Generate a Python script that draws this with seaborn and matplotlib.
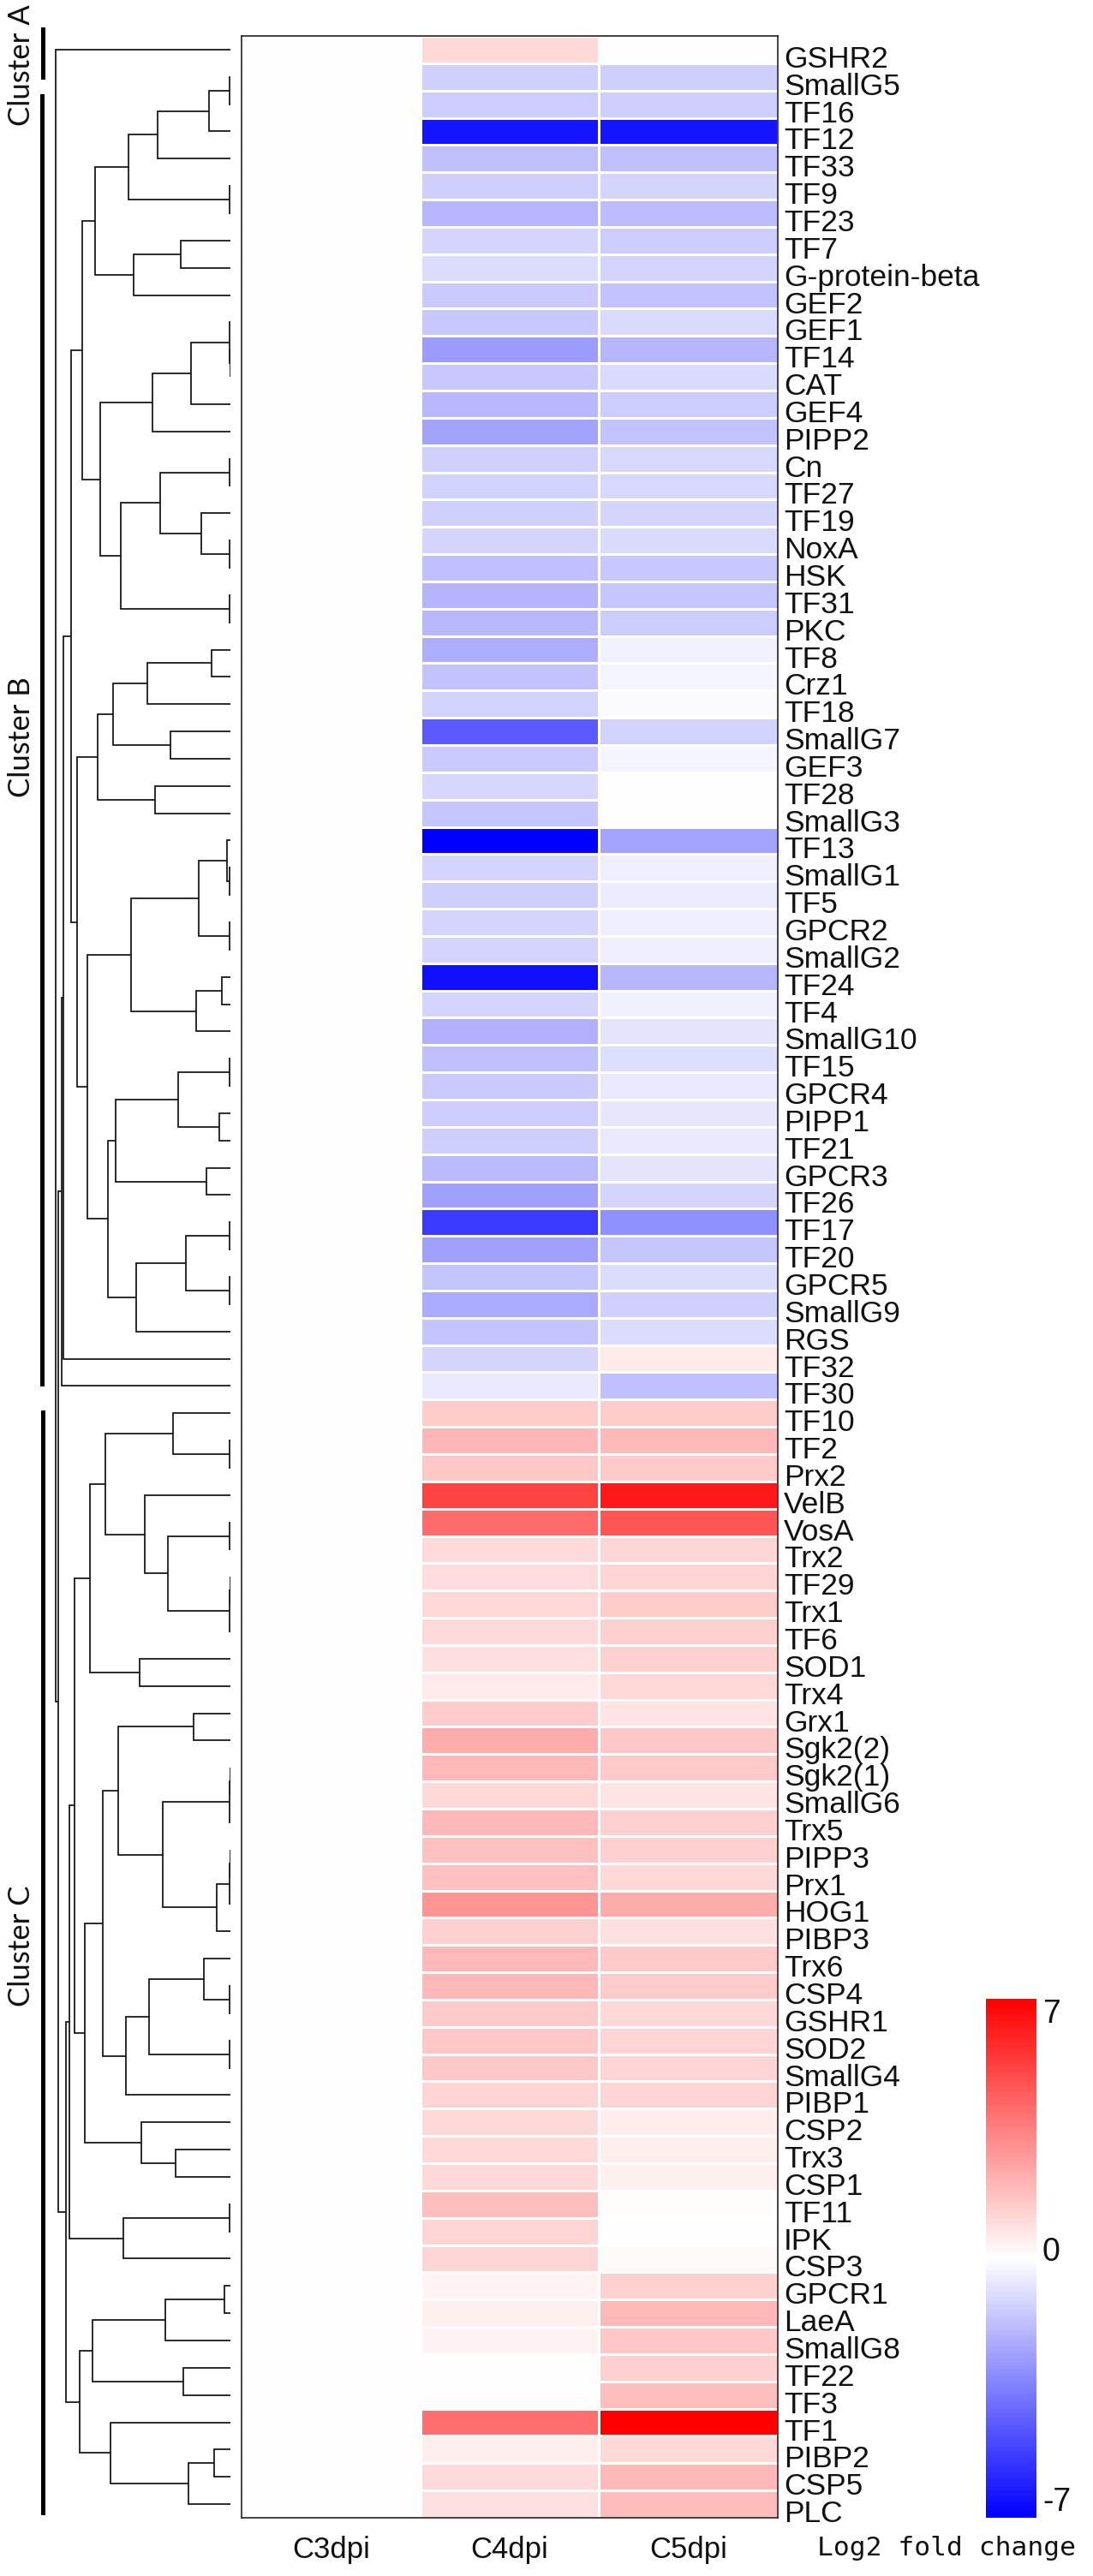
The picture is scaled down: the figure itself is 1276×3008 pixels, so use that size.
import matplotlib
matplotlib.use("Agg")
import matplotlib.pyplot as plt
import numpy as np
import pandas as pd
import seaborn as sns
from matplotlib.patches import Rectangle

genes = [
    "GSHR2", "SmallG5", "TF16", "TF12", "TF33", "TF9", "TF23", "TF7", "G-protein-beta", "GEF2",
    "GEF1", "TF14", "CAT", "GEF4", "PIPP2", "Cn", "TF27", "TF19", "NoxA", "HSK",
    "TF31", "PKC", "TF8", "Crz1", "TF18", "SmallG7", "GEF3", "TF28", "SmallG3", "TF13",
    "SmallG1", "TF5", "GPCR2", "SmallG2", "TF24", "TF4", "SmallG10", "TF15", "GPCR4", "PIPP1",
    "TF21", "GPCR3", "TF26", "TF17", "TF20", "GPCR5", "SmallG9", "RGS", "TF32", "TF30",
    "TF10", "TF2", "Prx2", "VelB", "VosA", "Trx2", "TF29", "Trx1", "TF6", "SOD1",
    "Trx4", "Grx1", "Sgk2(2)", "Sgk2(1)", "SmallG6", "Trx5", "PIPP3", "Prx1", "HOG1", "PIBP3",
    "Trx6", "CSP4", "GSHR1", "SOD2", "SmallG4", "PIBP1", "CSP2", "Trx3", "CSP1", "TF11",
    "IPK", "CSP3", "GPCR1", "LaeA", "SmallG8", "TF22", "TF3", "TF1", "PIBP2", "CSP5", "PLC",
]
days = ["C3dpi", "C4dpi", "C5dpi"]

c3dpi = [
    -0.04, -0.04, -0.04, -0.04, -0.04, -0.04, -0.04, -0.04, -0.04, -0.04,
    -0.04, -0.04, -0.04, -0.04, -0.04, -0.04, -0.04, -0.04, -0.04, -0.04,
    -0.04, -0.04, -0.04, -0.04, -0.04, -0.04, -0.04, -0.04, -0.04, -0.04,
    -0.04, -0.04, -0.04, -0.04, -0.04, -0.04, -0.04, -0.04, -0.04, -0.04,
    -0.04, -0.04, -0.04, -0.04, -0.04, -0.04, -0.04, -0.04, -0.04, -0.04,
    -0.04, -0.04, -0.04, -0.04, -0.04, -0.04, -0.04, -0.04, -0.04, -0.04,
    -0.04, -0.04, -0.04, -0.04, -0.04, -0.04, -0.04, -0.04, -0.04, -0.04,
    -0.04, -0.04, -0.04, -0.04, -0.04, -0.04, -0.04, -0.04, -0.04, -0.04,
    -0.04, -0.04, -0.04, -0.04, -0.04, -0.04, -0.04, -0.04, -0.04, -0.04, -0.04,
]
c4dpi = [
    1.07, -1.29, -1.4, -6.4, -1.75, -1.35, -2.0, -1.15, -0.98, -1.45,
    -1.5, -2.7, -1.5, -1.95, -2.55, -1.3, -1.25, -1.3, -1.2, -1.75,
    -2.05, -1.95, -2.2, -1.65, -1.25, -4.5, -1.45, -1.1, -1.55, -7.0,
    -1.15, -1.35, -1.15, -1.2, -6.55, -1.15, -2.15, -1.7, -1.45, -1.4,
    -1.35, -1.9, -2.6, -5.4, -2.6, -1.6, -2.3, -1.6, -1.2, -0.65,
    1.4, 2.0, 1.5, 5.15, 4.1, 1.0, 0.95, 1.05, 1.0, 0.85,
    0.6, 1.4, 2.25, 1.95, 1.05, 1.95, 1.7, 1.7, 2.9, 1.3,
    1.95, 1.95, 1.45, 1.5, 1.5, 1.2, 1.05, 1.05, 1.05, 1.75,
    1.15, 1.2, 0.3, 0.4, 0.35, 0.0, 0.05, 3.95, 0.45, 1.0, 0.85,
]
c5dpi = [
    0.0, -1.35, -1.35, -6.4, -1.7, -1.2, -1.85, -1.4, -1.2, -1.65,
    -1.0, -2.0, -1.0, -1.4, -1.65, -1.05, -1.05, -1.15, -1.0, -1.5,
    -1.55, -1.4, -0.35, -0.3, -0.15, -1.25, -0.3, -0.05, 0.0, -2.5,
    -0.45, -0.5, -0.45, -0.45, -2.0, -0.4, -0.75, -0.9, -0.65, -0.7,
    -0.65, -0.75, -1.2, -3.05, -1.55, -0.95, -1.3, -0.95, 0.6, -1.75,
    1.4, 1.95, 1.45, 6.3, 4.7, 1.1, 1.2, 1.4, 1.3, 1.3,
    1.05, 0.75, 1.5, 1.45, 0.75, 1.3, 1.3, 1.05, 2.25, 0.85,
    1.45, 1.4, 1.05, 1.15, 1.2, 1.15, 0.5, 0.45, 0.4, 0.1,
    0.05, 0.15, 1.3, 1.95, 1.5, 1.3, 1.75, 7.0, 1.05, 1.95, 1.85,
]

# dendrogram as nested (merge height, child, child), ints are row numbers
clade_b1 = (173,
            (158, (119, (85, (25, (1, 1, 2), 3), 4), (1, 5, 6)), (113, (58, 7, 8), 9)),
            (152, (91, (46, (1, 10, (0.5, 11, 12)), 13), 14),
             (128, (82, (1, 15, 16), (34, 17, (1, 18, 19))), (1, 20, 21))))
clade_b2 = (155, (137, (97, (22, 22, 23), 24), (70, 25, 26)), (88, 27, 28))
clade_b3 = (167,
            (116, (37, (4, 29, (1, 30, 31)), (1, 32, 33)), (40, (10, 34, 35), 36)),
            (143, (134, (61, (1, 37, 38), (13, 39, 40)), (28, 41, 42)),
             (110, (52, (1, 43, 44), (1, 45, 46)), 47)))
clade_b = (186, clade_b1, (179, clade_b2, clade_b3))
clade_c1 = (164,
            (146, (67, 50, (1, 51, 52)), (100, 53, (73, (1, 54, 55), (1, (0.5, 56, 57), 58)))),
            (106, 59, 60))
clade_c2 = (149,
            (131, (43, 61, 62), (79, (1, (0.5, 63, 64), 65), (16, (1, (0.5, 66, 67), 68), 69))),
            (122, (95, (31, 70, (1, 71, 72)), (1, 73, 74)), 75))
clade_c3 = (104, 76, (64, 77, 78))
clade_c4 = (125, (1, 79, 80), 81)
clade_c5 = (176,
            (161, (76, (7, 82, 83), 84), (55, 85, 86)),
            (140, 87, (49, (19, 88, 89), 90)))
clade_c = (192, (188, (182, clade_c1, (170, clade_c2, clade_c3)), clade_c4), clade_c5)
root = (204, 0, (201, (197, (195, clade_b, 48), 49), clade_c))

cluster_names = ["Cluster A", "Cluster B", "Cluster C"]

W, H = 1276, 3008


def px_axes(fig, left, top, right, bottom):
    return fig.add_axes([left / W, 1 - bottom / H, (right - left) / W, (bottom - top) / H])


def draw_tree(ax, node):
    # returns (height, y) of the node
    if isinstance(node, int):
        return 0, node + 0.5
    h, a, b = node
    ha, ya = draw_tree(ax, a)
    hb, yb = draw_tree(ax, b)
    ax.plot([ha, h, h, hb], [ya, ya, yb, yb], color="#111111", lw=1.25,
            solid_joinstyle="miter", solid_capstyle="butt")
    return h, (ya + yb) / 2


sns.set_theme(style="white")
plt.rcParams["font.family"] = ["Liberation Sans", "DejaVu Sans"]

df = pd.DataFrame({"C3dpi": c3dpi, "C4dpi": c4dpi, "C5dpi": c5dpi}, index=genes)[days]

fig = plt.figure(figsize=(W / 100, H / 100), dpi=100, facecolor="white")

ax = px_axes(fig, 282, 42, 908, 2940)
cax = px_axes(fig, 1151, 2334, 1210, 2940)
sns.heatmap(df, ax=ax, cbar_ax=cax, cmap="bwr", vmin=-7, vmax=7,
            linewidths=1.0, linecolor="white", xticklabels=True, yticklabels=True)

for side in ax.spines.values():
    side.set_visible(True)
    side.set_color("#222222")
    side.set_linewidth(1.2)

ax.set_xlabel("")
ax.set_ylabel("")
ax.yaxis.tick_right()
ax.set_yticks(np.arange(len(genes)) + 0.75)
ax.set_yticklabels(genes, rotation=0, fontsize=25.5, color="#111111")
ax.set_xticklabels(days, rotation=0, fontsize=25, color="#111111")
ax.tick_params(axis="y", length=0, pad=5)
ax.tick_params(axis="x", length=0, pad=15)

cbar = ax.collections[0].colorbar
cbar.outline.set_visible(False)
cbar.set_ticks([-7, 0.25, 7])
cbar.set_ticklabels(["-7", "0", "7"])
cbar.ax.tick_params(length=0, pad=5, labelsize=27, labelcolor="#111111")
tick_texts = cbar.ax.get_yticklabels()
tick_texts[0].set_va("bottom")
tick_texts[2].set_va("top")

tree_ax = px_axes(fig, 40, 42, 269, 2940)
draw_tree(tree_ax, root)
tree_ax.set_xlim(229, 0)
tree_ax.set_ylim(len(genes), 0)
tree_ax.axis("off")

# cluster bars and captions live in a pixel-sized overlay
over = fig.add_axes([0, 0, 1, 1], zorder=-1)
over.set_xlim(0, W)
over.set_ylim(H, 0)
over.axis("off")
over.add_patch(Rectangle((48, 32), 4.5, 61, color="black", lw=0))
over.add_patch(Rectangle((47, 110), 4.5, 1509, color="black", lw=0))
over.add_patch(Rectangle((48, 1647), 4.5, 1290, color="black", lw=0))
for name, y in zip(cluster_names, [76, 861, 2272]):
    over.text(25, y, name, rotation=90, ha="center", va="center",
              family=["Lato", "DejaVu Sans"], fontsize=25, color="#111111")
over.text(1105, 2976, "Log2 fold change", ha="center", va="center",
          family=["DejaVu Sans Mono"], fontsize=22.5, color="#111111")

fig.savefig("out.png", dpi=100)
plt.close(fig)
